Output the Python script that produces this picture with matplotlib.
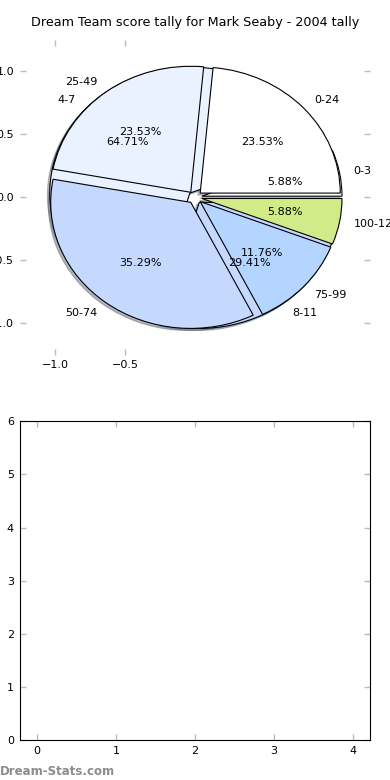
import matplotlib
matplotlib.use('Agg')
from matplotlib import pyplot

# score bands, tally 2004
band_labels = ['0-24', '25-49', '50-74', '75-99', '100-124']
band_counts = [4, 4, 6, 2, 1]
band_colors = ['#ffffff', '#ebf2ff', '#c5d9ff', '#b3d5ff', '#d1eb88']

# second (underlying) breakdown
small_labels = ['0-3', '4-7', '8-11']
small_counts = [1, 11, 5]
small_colors = ['#ffffff', '#ebf2ff', '#c5d9ff']

title = 'Dream Team score tally for Mark Seaby - 2004 tally'


def style_ticks(ax):
    ax.tick_params(direction='in', length=4, width=1, color='#bbbbbb',
                   labelsize=8, top=True, right=True, pad=4)


def main():
    fig = pyplot.figure(figsize=(3.9, 7.8), dpi=100)

    # top: pie
    ax = fig.add_axes([0.051, 0.545, 0.898, 0.404])
    wp = {'edgecolor': 'black', 'linewidth': 0.8}
    shadow = {'ox': -0.012, 'oy': -0.012, 'shade': 0.5}
    ax.pie(small_counts, labels=small_labels, colors=small_colors,
           explode=[0.05] * len(small_counts), autopct='%1.2f%%',
           shadow=shadow, startangle=0, wedgeprops=wp,
           textprops={'fontsize': 8})
    ax.pie(band_counts, labels=band_labels, colors=band_colors,
           explode=[0.05] * len(band_counts), autopct='%1.2f%%',
           shadow=shadow, startangle=0, wedgeprops=wp,
           textprops={'fontsize': 8})
    ax.set_aspect('auto')
    ax.set_frame_on(False)
    ax.set_xlim(-1.25, 1.25)
    ax.set_ylim(-1.25, 1.25)
    ax.set_xticks([-1.0, -0.5])
    ax.set_yticks([-1.0, -0.5, 0.0, 0.5, 1.0])
    style_ticks(ax)
    ax.set_title(title, fontsize=9.2, pad=10)

    # bottom: empty axes
    ax2 = fig.add_axes([0.05, 0.051, 0.899, 0.409])
    ax2.set_xlim(-0.22, 4.22)
    ax2.set_ylim(0, 6)
    ax2.set_xticks(range(5))
    ax2.set_yticks(range(7))
    style_ticks(ax2)

    fig.text(0.0, 0.003, 'Dream-Stats.com', color='#8c8c8c', fontsize=8.5,
             fontweight='semibold', ha='left', va='bottom')

    fig.savefig('out.png', dpi=100)


if __name__ == '__main__':
    main()
